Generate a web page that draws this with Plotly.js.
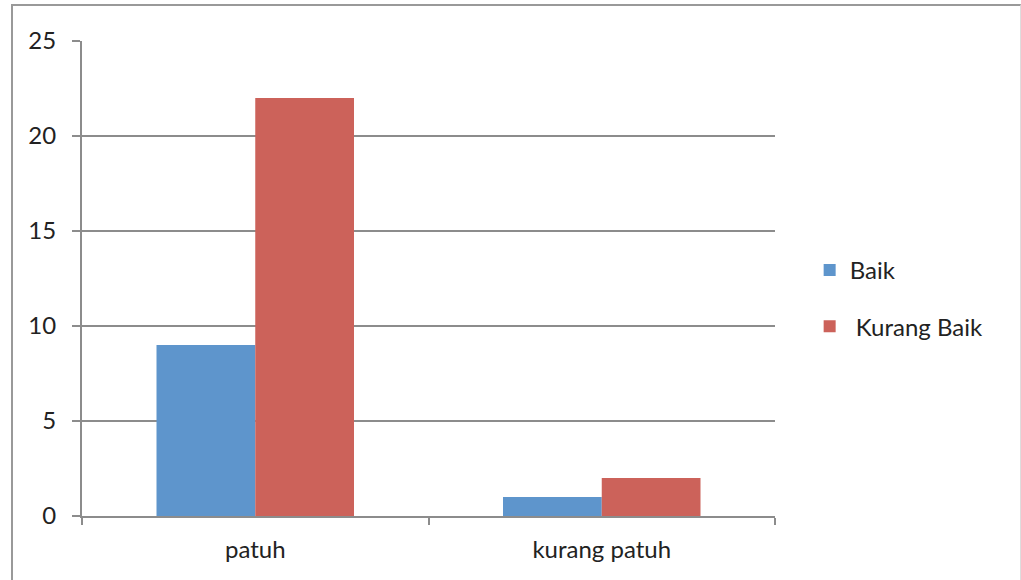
<!DOCTYPE html>
<html>
<head>
<meta charset="utf-8">
<script src="https://cdn.plot.ly/plotly-3.0.1.min.js"></script>
<style>
html,body{margin:0;padding:0;background:#fff;}
#wrap{position:relative;width:1021px;height:580px;overflow:hidden;}
#frame{position:absolute;left:11px;top:4px;width:1007px;height:600px;border-left:2px solid #999;border-top:2px solid #999;border-right:1px solid #ddd;pointer-events:none;}
#chart{position:absolute;left:0;top:0;width:1021px;height:580px;}
</style>
</head>
<body>
<div id="wrap">
<div id="chart"></div>
<div id="frame"></div>
</div>
<script>
const categories = ["patuh", "kurang patuh"];
const seriesNames = ["Baik", " Kurang Baik"];
const baik = [9, 1];
const kurangBaik = [22, 2];
const yTicks = [0, 5, 10, 15, 20, 25];

const fontFam = "Lato, 'Open Sans', sans-serif";
const traces = [
  {type: "bar", name: seriesNames[0], x: categories, y: baik, marker: {color: "#5E95CC"}, legendgroup: "a"},
  {type: "bar", name: seriesNames[1], x: categories, y: kurangBaik, marker: {color: "#CC625A"}, legendgroup: "b"}
];
const layout = {
  width: 1021, height: 580,
  margin: {l: 82, r: 246, t: 41, b: 64},
  paper_bgcolor: "#fff", plot_bgcolor: "#fff",
  barmode: "group", bargap: 0.43, bargroupgap: 0,
  font: {family: fontFam, size: 24, color: "#222"},
  showlegend: true,
  legend: {x: 1.05, y: 0.458, xanchor: "left", yanchor: "middle", traceorder: "grouped", tracegroupgap: 22,
           font: {family: fontFam, size: 24, color: "#222"}, bgcolor: "rgba(0,0,0,0)"},
  xaxis: {type: "category", showline: true, linecolor: "#8c8c8c", linewidth: 2,
          ticks: "outside", tickson: "boundaries", ticklen: 7, tickwidth: 2, tickcolor: "#8c8c8c",
          ticklabelstandoff: 11,
          showgrid: false, zeroline: false, fixedrange: true},
  yaxis: {range: [0, 25], tickvals: yTicks, showline: true, linecolor: "#8c8c8c", linewidth: 2,
          ticks: "outside", ticklen: 8, tickwidth: 2, tickcolor: "#8c8c8c",
          ticklabelstandoff: 11,
          showgrid: true, gridcolor: "#8c8c8c", gridwidth: 2, zeroline: false, fixedrange: true},
  hovermode: false
};
Plotly.newPlot("chart", traces, layout, {staticPlot: true, displayModeBar: false});
</script>
</body>
</html>
